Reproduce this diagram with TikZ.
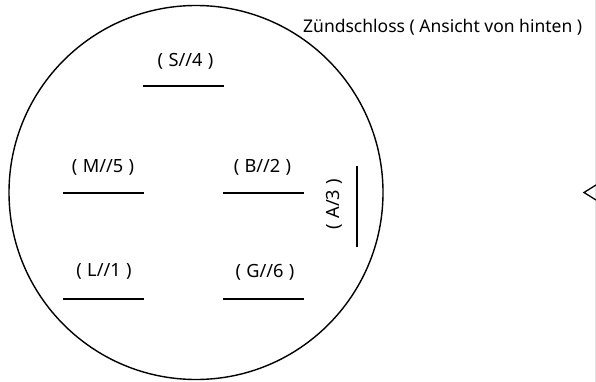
\documentclass[tikz,border=0pt]{standalone}
\usepackage{fontspec}
\setmainfont{Noto Sans}
\newcommand{\pxx}[1]{\fontsize{#1}{#1}\selectfont}
\newcommand{\pad}{\hspace{0.6pt}}
\tikzset{x=1pt,y=-1pt,
 ttl/.style={inner sep=0pt,font=\pxx{17.5}},
 lbl/.style={inner sep=0pt,font=\pxx{18.2}},
 bar/.style={draw=black,line width=1.5pt}}
\begin{document}
\begin{tikzpicture}
\useasboundingbox (0,0) rectangle (596,382);
\node[circle,draw=black,line width=1.4pt,minimum size=374pt,inner sep=0pt] (lock) at (196,192.5) {};
\node[ttl,anchor=west] (title) at (303,27.5) {Zündschloss ( Ansicht von hinten )};
\coordinate (s1) at (143,86); \coordinate (s2) at (224,86);
\draw[bar] (s1) -- (s2);
\node[lbl] (s) at (185.5,61.5) {(\pad{} S//4\pad{} )};
\coordinate (m1) at (63,193); \coordinate (m2) at (144,193);
\draw[bar] (m1) -- (m2);
\node[lbl] (m) at (103,167.5) {(\pad{} M//5\pad{} )};
\coordinate (b1) at (223,193); \coordinate (b2) at (304,193);
\draw[bar] (b1) -- (b2);
\node[lbl] (b) at (262.5,167.5) {(\pad{} B//2\pad{} )};
\coordinate (l1) at (63,299); \coordinate (l2) at (144,299);
\draw[bar] (l1) -- (l2);
\node[lbl] (l) at (104,271.5) {(\pad{} L//1\pad{} )};
\coordinate (g1) at (223,299); \coordinate (g2) at (304,299);
\draw[bar] (g1) -- (g2);
\node[lbl] (g) at (265,272.5) {(\pad{} G//6\pad{} )};
\coordinate (a1) at (357,166); \coordinate (a2) at (357,247);
\draw[bar] (a1) -- (a2);
\node[lbl,rotate=90] (a) at (334.5,204) {(\pad{} A/3\pad{} )};
\coordinate (e1) at (595.5,0); \coordinate (e2) at (595.5,382);
\draw[draw=black!12,line width=1pt] (e1) -- (e2);
\coordinate (c1) at (596,185); \coordinate (c2) at (584,192.5); \coordinate (c3) at (596,200);
\draw[black,line width=1.3pt] (c1) -- (c2) -- (c3);
\end{tikzpicture}
\end{document}
